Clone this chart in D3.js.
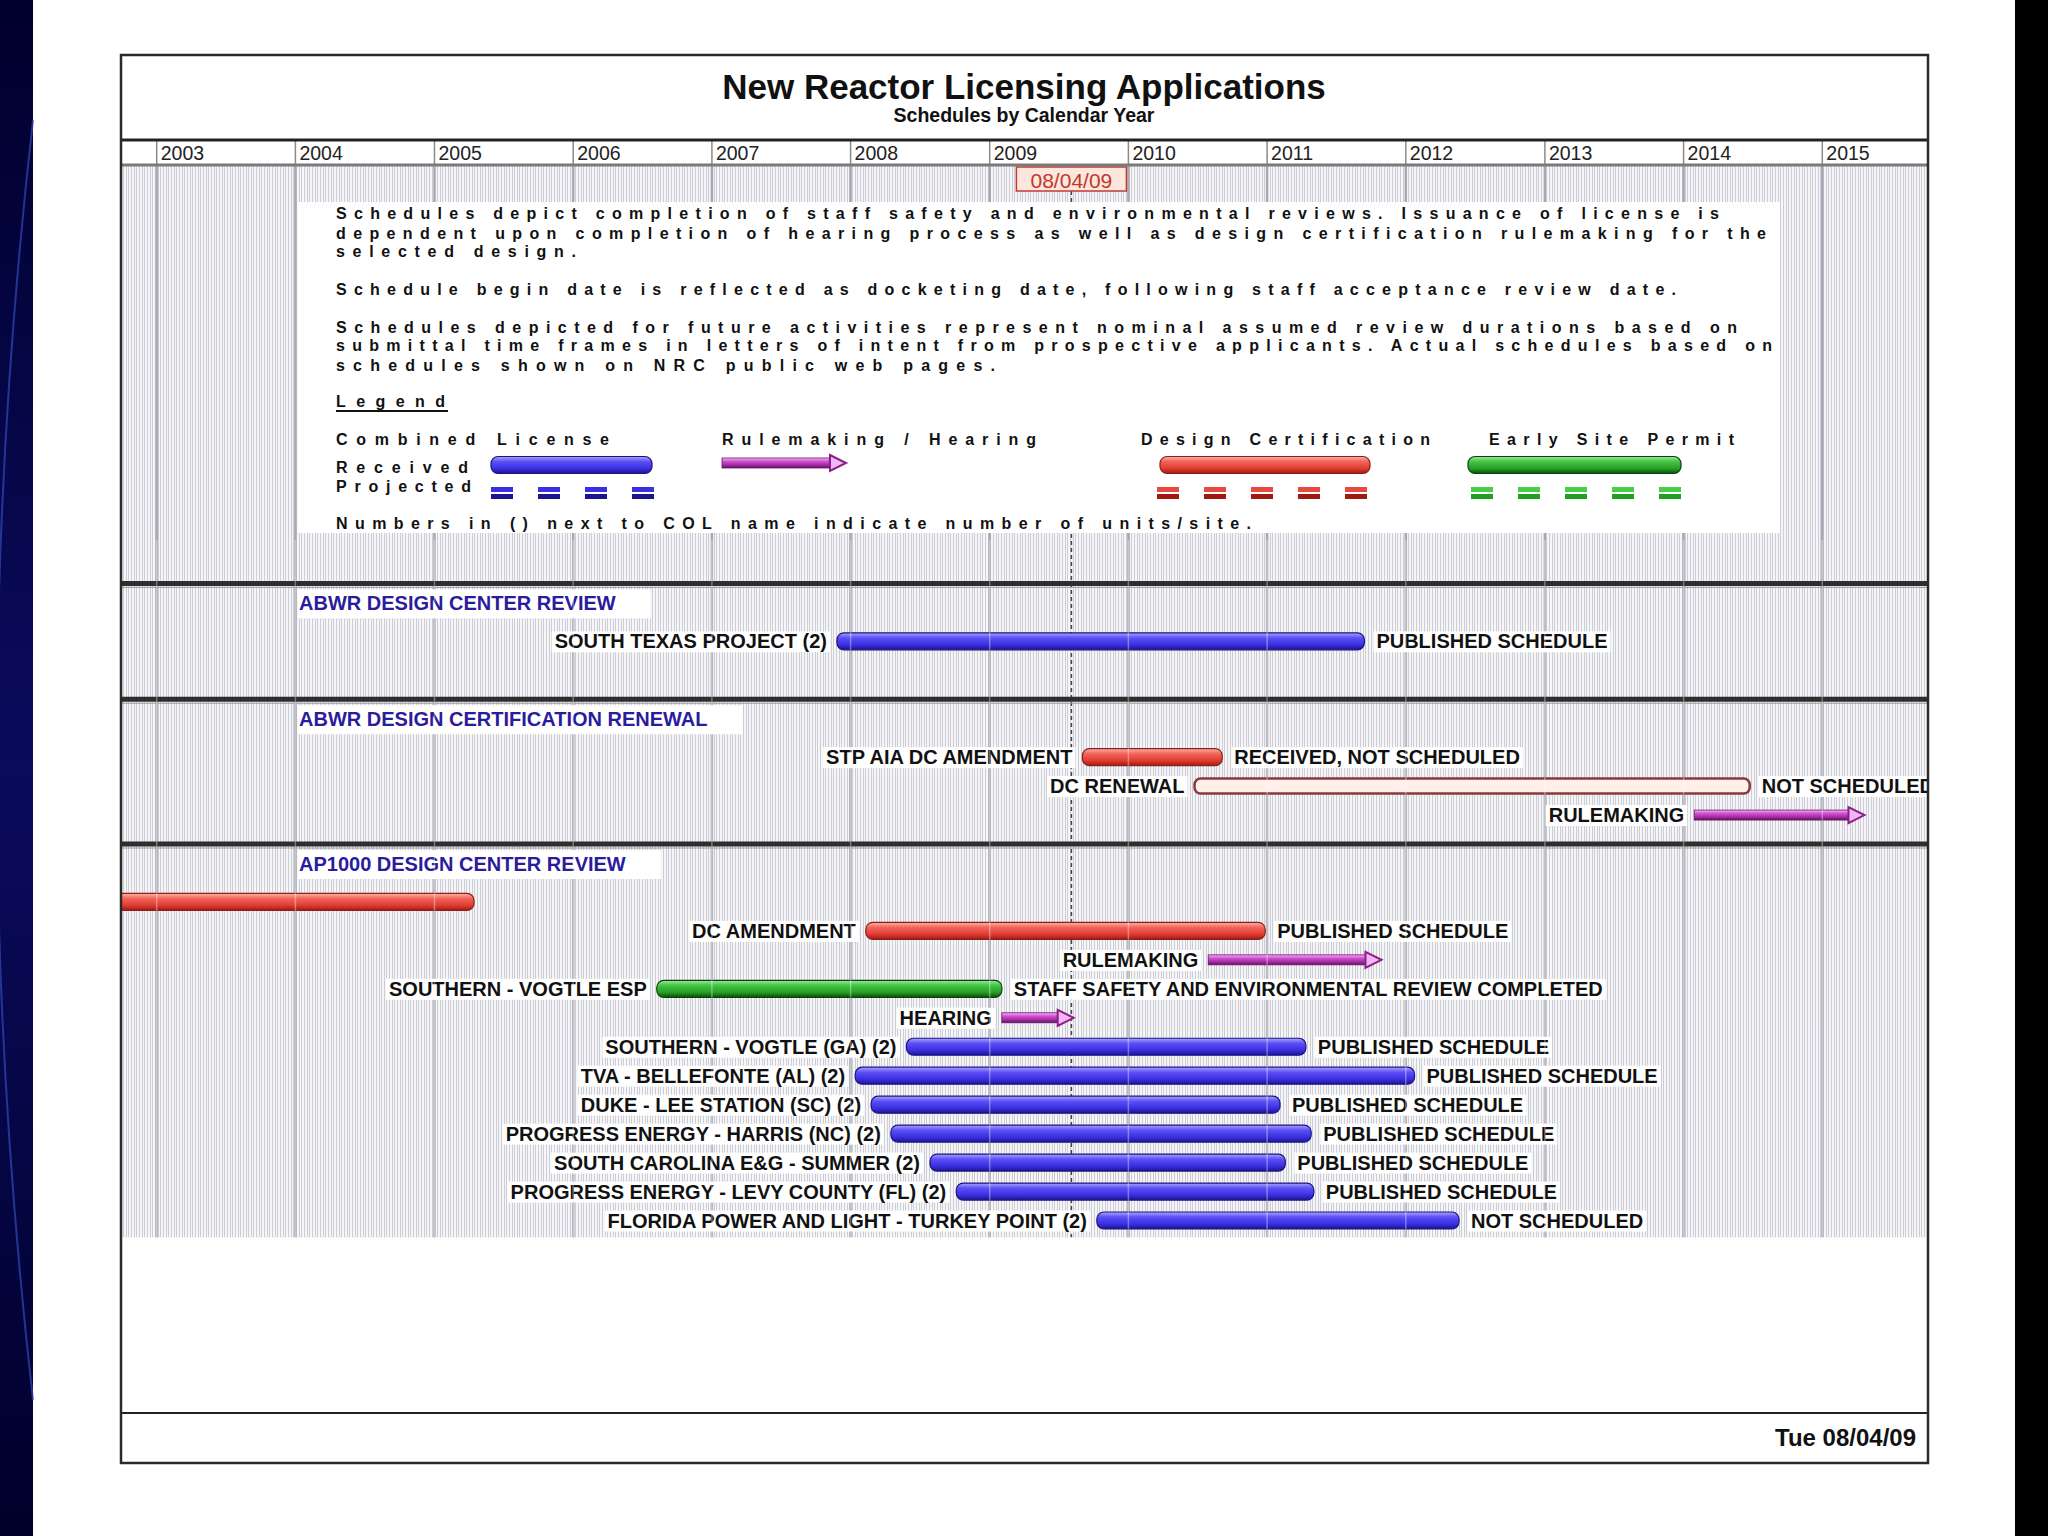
<!DOCTYPE html>
<html>
<head>
<meta charset="utf-8">
<script src="https://cdn.jsdelivr.net/npm/d3@7"></script>
<style>
  body { margin: 0; background: #fff; }
  text { font-family: "Liberation Sans", Arial, Helvetica, sans-serif; }
</style>
</head>
<body>
<svg id="chart"></svg>
<script>
// ---- data ----
var yearLabels = ["2003", "2004", "2005", "2006", "2007", "2008", "2009",
  "2010", "2011", "2012", "2013", "2014", "2015"];
var reportDate = "2009-08-04";
var reportLabel = "08/04/09";
var footerLabel = "Tue 08/04/09";

var titleText = "New Reactor Licensing Applications";
var subtitleText = "Schedules by Calendar Year";

var noteLines = [
  "Schedules depict completion of staff safety and environmental reviews. Issuance of license is",
  "dependent upon completion of hearing process as well as design certification rulemaking for the",
  "selected design.",
  "Schedule begin date is reflected as docketing date, following staff acceptance review date.",
  "Schedules depicted for future activities represent nominal assumed review durations based on",
  "submittal time frames in letters of intent from prospective applicants.  Actual schedules based on",
  "schedules shown on NRC public web pages."
];
var legendTitles = ["Combined License", "Rulemaking / Hearing", "Design Certification", "Early Site Permit"];
var legendFootnote = "Numbers in () next to COL name indicate number of units/site.";

var sectionNames = [
  "ABWR DESIGN CENTER REVIEW",
  "ABWR DESIGN CERTIFICATION RENEWAL",
  "AP1000 DESIGN CENTER REVIEW"
];

var rowSection = [0, 1, 1, 1, 2, 2, 2, 2, 2, 2, 2, 2, 2, 2, 2, 2];
var rowLabels = [
  "SOUTH TEXAS PROJECT (2)",
  "STP AIA DC AMENDMENT", "DC RENEWAL", "RULEMAKING",
  "", "DC AMENDMENT", "RULEMAKING", "SOUTHERN - VOGTLE ESP", "HEARING",
  "SOUTHERN - VOGTLE (GA) (2)", "TVA - BELLEFONTE (AL) (2)",
  "DUKE - LEE STATION (SC) (2)", "PROGRESS ENERGY - HARRIS (NC) (2)",
  "SOUTH CAROLINA E&G - SUMMER (2)", "PROGRESS ENERGY - LEVY COUNTY (FL) (2)",
  "FLORIDA POWER AND LIGHT - TURKEY POINT (2)"
];
var rowKinds = ["col", "dc", "dcOpen", "rule", "dc", "dc", "rule", "esp", "rule",
  "col", "col", "col", "col", "col", "col", "col"];
var rowStarts = ["2007-11-26", "2009-09-02", "2010-06-24", "2014-01-29",
  "2002-03-28", "2008-02-10", "2010-07-30", "2006-08-09", "2009-02-02",
  "2008-05-27", "2008-01-13", "2008-02-24", "2008-04-16", "2008-07-28",
  "2008-10-05", "2009-10-10"];
var rowEnds = ["2011-09-14", "2010-09-05", "2014-06-24", "2015-04-22",
  "2005-04-15", "2010-12-27", "2011-10-29", "2009-02-02", "2009-08-10",
  "2011-04-13", "2012-01-24", "2011-02-04", "2011-04-27", "2011-02-18",
  "2011-05-04", "2012-05-20"];
var rowStatus = ["PUBLISHED SCHEDULE", "RECEIVED, NOT SCHEDULED", "NOT SCHEDULED", "",
  "", "PUBLISHED SCHEDULE", "", "STAFF SAFETY AND ENVIRONMENTAL REVIEW COMPLETED", "",
  "PUBLISHED SCHEDULE", "PUBLISHED SCHEDULE", "PUBLISHED SCHEDULE", "PUBLISHED SCHEDULE",
  "PUBLISHED SCHEDULE", "PUBLISHED SCHEDULE", "NOT SCHEDULED"];

// ---- setup ----
var W = 2048, H = 1536;
var frame = { left: 121, right: 1928, top: 55, bottom: 1463 };
var headerTop = 141, headerBottom = 165;
var barH = 17;
var parse = d3.timeParse("%Y-%m-%d");

var rows = rowLabels.map(function (d, i) {
  return {
    label: d, section: rowSection[i], kind: rowKinds[i],
    start: parse(rowStarts[i]), end: parse(rowEnds[i]), status: rowStatus[i]
  };
});

// slot layout: rows stack one per slot, sections separated by a header gap
var slot = 0, sepSlots = [];
sectionNames.forEach(function (s, si) {
  sepSlots.push(slot - 2);
  var first = slot;
  rows.forEach(function (r) {
    if (r.section === si) { r.slot = slot; slot += 1; }
  });
  slot = Math.max(slot, first + 2) + 2;
});
var lastSlot = d3.max(rows, d => d.slot);

var x = d3.scaleTime()
  .domain([new Date(2003, 0, 1), new Date(2015, 0, 1)])
  .range([156.7, 1822.3]);
var y = d3.scaleLinear().domain([0, 20]).range([641.3, 1220.5]);
var gridBottom = y(lastSlot) + 17;

var svg = d3.select("#chart").attr("width", W).attr("height", H);
var defs = svg.append("defs");

function vGrad(id, stops) {
  var g = defs.append("linearGradient").attr("id", id)
    .attr("x1", 0).attr("y1", 0).attr("x2", 0).attr("y2", 1);
  stops.forEach(function (s) {
    g.append("stop").attr("offset", s[0]).attr("stop-color", s[1]);
  });
}
vGrad("g-col", [[0, "#a8a4ff"], [0.3, "#5b50f4"], [0.7, "#3b2fe2"], [1, "#1d1590"]]);
vGrad("g-dc", [[0, "#ffb0a6"], [0.3, "#f0655a"], [0.7, "#e03c32"], [1, "#a01a12"]]);
vGrad("g-esp", [[0, "#9de89d"], [0.3, "#44c444"], [0.7, "#27a027"], [1, "#0a520a"]]);
vGrad("g-rule", [[0, "#f5b2f5"], [0.35, "#cf4fcf"], [0.7, "#a22ca2"], [1, "#5f125f"]]);
vGrad("g-side", [[0, "#00002c"], [0.5, "#0b0b5e"], [1, "#00002a"]]);

var fills = { col: "url(#g-col)", dc: "url(#g-dc)", esp: "url(#g-esp)" };
var strokes = { col: "#1b1380", dc: "#8c2018", esp: "#0b420b" };

defs.append("clipPath").attr("id", "gridClip").append("rect")
  .attr("x", frame.left).attr("y", headerBottom)
  .attr("width", frame.right - frame.left).attr("height", gridBottom - headerBottom);

// slide edges
svg.append("rect").attr("width", W).attr("height", H).attr("fill", "#fff");
svg.append("rect").attr("x", 0).attr("y", 0).attr("width", 33).attr("height", H).attr("fill", "url(#g-side)");
svg.append("path").attr("d", "M33,120 Q-40,760 33,1400")
  .attr("fill", "none").attr("stroke", "#3347b8").attr("stroke-width", 2).attr("opacity", 0.7);
svg.append("rect").attr("x", 2015).attr("y", 0).attr("width", W - 2015).attr("height", H).attr("fill", "#000");

// title
svg.append("text").attr("x", 1024).attr("y", 99).attr("text-anchor", "middle")
  .attr("font-size", 35).attr("font-weight", "bold").attr("fill", "#111").text(titleText);
svg.append("text").attr("x", 1024).attr("y", 122).attr("text-anchor", "middle")
  .attr("font-size", 19.5).attr("font-weight", "bold").attr("fill", "#111").text(subtitleText);

// year header
var yearDates = yearLabels.map(d => new Date(+d, 0, 1));
svg.append("rect").attr("x", frame.left).attr("y", headerTop)
  .attr("width", frame.right - frame.left).attr("height", headerBottom - headerTop).attr("fill", "#fff");
var header = svg.append("g").attr("class", "x axis");
header.selectAll("line").data(yearDates).enter().append("line")
  .attr("x1", d => x(d)).attr("x2", d => x(d))
  .attr("y1", headerTop).attr("y2", headerBottom)
  .attr("stroke", "#8a8a8a").attr("stroke-width", 1.5);
header.selectAll("text").data(yearLabels).enter().append("text")
  .attr("x", (d, i) => x(yearDates[i]) + 4).attr("y", 160)
  .attr("font-size", 19.5).attr("fill", "#222").text(d => d);

// grid body
var grid = svg.append("g").attr("clip-path", "url(#gridClip)");
grid.append("rect").attr("x", frame.left).attr("y", headerBottom)
  .attr("width", frame.right - frame.left).attr("height", gridBottom - headerBottom)
  .attr("fill", "#f6f6f8");
var weeks = d3.timeWeek.range(x.invert(frame.left), x.invert(frame.right));
grid.append("g").selectAll("line").data(weeks).enter().append("line")
  .attr("x1", d => x(d)).attr("x2", d => x(d))
  .attr("y1", headerBottom).attr("y2", gridBottom)
  .attr("stroke", "#cdcdd5").attr("stroke-width", 1)
  .attr("shape-rendering", "crispEdges");
grid.append("g").selectAll("line").data(yearDates).enter().append("line")
  .attr("x1", d => x(d)).attr("x2", d => x(d))
  .attr("y1", headerBottom).attr("y2", gridBottom)
  .attr("stroke", "#a8a8b2").attr("stroke-width", 2.5);

// report date line
var rd = parse(reportDate);
grid.append("line").attr("x1", x(rd)).attr("x2", x(rd))
  .attr("y1", 191).attr("y2", gridBottom)
  .attr("stroke", "#444").attr("stroke-width", 1.5).attr("stroke-dasharray", "4,3");

// notes box
grid.append("rect").attr("x", 298).attr("y", 202).attr("width", 1482).attr("height", 331).attr("fill", "#fff");
var noteY = [219, 239, 257, 295, 333, 351, 371];
var noteLen = [1383, 1430, 240, 1340, 1401, 1436, 659];
var notes = svg.append("g").attr("font-size", 16).attr("font-weight", "bold").attr("fill", "#111");
function spaced(g, txt, tx, ty, len) {
  return g.append("text").attr("x", tx).attr("y", ty)
    .attr("textLength", len).attr("lengthAdjust", "spacing").text(txt);
}
noteLines.forEach(function (t, i) { spaced(notes, t, 336, noteY[i], noteLen[i]); });
spaced(notes, "Legend", 336, 407, 109);
notes.append("line").attr("x1", 336).attr("x2", 448).attr("y1", 411).attr("y2", 411)
  .attr("stroke", "#111").attr("stroke-width", 2);
var legX = [336, 722, 1141, 1489], legLen = [273, 314, 289, 245];
legendTitles.forEach(function (t, i) { spaced(notes, t, legX[i], 445, legLen[i]); });
spaced(notes, "Received", 336, 473, 132);
spaced(notes, "Projected", 336, 492, 135);
spaced(notes, legendFootnote, 336, 529, 915);

// legend swatches
var leg = svg.append("g");
function solidBar(g, x0, x1, cy, kind) {
  g.append("rect").attr("x", x0).attr("y", cy - barH / 2)
    .attr("width", Math.max(0, x1 - x0)).attr("height", barH)
    .attr("rx", 7).attr("ry", 7)
    .attr("fill", fills[kind]).attr("stroke", strokes[kind]).attr("stroke-width", 1.2);
}
function arrow(g, x0, x1, cy) {
  var head = 16;
  g.append("rect").attr("x", x0).attr("y", cy - 5)
    .attr("width", Math.max(0, x1 - x0 - head + 2)).attr("height", 10)
    .attr("fill", "url(#g-rule)").attr("stroke", "#6a166a").attr("stroke-width", 0.8);
  g.append("path")
    .attr("d", "M" + (x1 - head) + "," + (cy - 8) + "L" + x1 + "," + cy + "L" + (x1 - head) + "," + (cy + 8) + "Z")
    .attr("fill", "#f2b6f2").attr("stroke", "#8a1f8a").attr("stroke-width", 2);
}
solidBar(leg, 491, 652, 465, "col");
arrow(leg, 722, 846, 463);
solidBar(leg, 1160, 1370, 465, "dc");
solidBar(leg, 1468, 1681, 465, "esp");
var dashColors = { col: ["#3b2fe2", "#1d1590"], dc: ["#e84a40", "#a01a12"], esp: ["#46d046", "#20a020"] };
[["col", 491, 4], ["dc", 1157, 5], ["esp", 1471, 5]].forEach(function (p) {
  var c = dashColors[p[0]];
  d3.range(p[2]).forEach(function (k) {
    var dx = p[1] + k * 47;
    leg.append("rect").attr("x", dx).attr("y", 487).attr("width", 22).attr("height", 5).attr("fill", c[0]);
    leg.append("rect").attr("x", dx).attr("y", 494).attr("width", 22).attr("height", 5).attr("fill", c[1]);
  });
});

// section separators and headers
var content = svg.append("g").attr("clip-path", "url(#gridClip)");
sepSlots.forEach(function (s, si) {
  var sy = y(s);
  content.append("line").attr("x1", frame.left).attr("x2", frame.right)
    .attr("y1", sy).attr("y2", sy).attr("stroke", "#2e2e2e").attr("stroke-width", 5);
  content.append("line").attr("x1", frame.left).attr("x2", frame.right)
    .attr("y1", sy + 4).attr("y2", sy + 4).attr("stroke", "#9a9a9a").attr("stroke-width", 1);
  var hg = content.append("g");
  var bg = hg.append("rect").attr("fill", "#fff");
  var t = hg.append("text").attr("x", 299).attr("y", sy + 27)
    .attr("font-size", 20).attr("font-weight", "bold").attr("fill", "#2a1c9c")
    .text(sectionNames[si]);
  var bb = t.node().getBBox();
  bg.attr("x", 298).attr("y", sy + 6).attr("width", bb.width + 36).attr("height", 29);
});

// row labels with white backing
function label(g, txt, tx, ty, anchor) {
  if (!txt) return;
  var lg = g.append("g");
  var bg = lg.append("rect").attr("fill", "#fff");
  var t = lg.append("text").attr("x", tx).attr("y", ty).attr("text-anchor", anchor)
    .attr("font-size", 20).attr("font-weight", "bold").attr("fill", "#111").text(txt);
  var bb = t.node().getBBox();
  bg.attr("x", bb.x - 3).attr("y", bb.y + 1).attr("width", bb.width + 6).attr("height", bb.height - 1);
}

var rowG = content.append("g").attr("class", "rows");
rows.forEach(function (r) {
  var cy = y(r.slot);
  var x0 = x(r.start), x1 = x(r.end);
  label(rowG, r.label, x0 - 10, cy + 7, "end");
  label(rowG, r.status, x1 + 12, cy + 7, "start");
  if (r.kind === "rule") {
    arrow(rowG, x0, x1, cy);
  } else if (r.kind === "dcOpen") {
    rowG.append("rect").attr("x", x0).attr("y", cy - barH / 2 + 1)
      .attr("width", x1 - x0).attr("height", barH - 2).attr("rx", 6).attr("ry", 6)
      .attr("fill", "#fff0ea").attr("stroke", "#8a3a3a").attr("stroke-width", 2.5);
  } else {
    solidBar(rowG, x0, x1, cy, r.kind);
  }
});

// faint year lines over the bars
content.append("g").selectAll("line").data(yearDates).enter().append("line")
  .attr("x1", d => x(d)).attr("x2", d => x(d))
  .attr("y1", 540).attr("y2", gridBottom)
  .attr("stroke", "#ffffff").attr("stroke-width", 1.5).attr("opacity", 0.35);

// report date box
svg.append("rect").attr("x", x(rd) - 55).attr("y", 167).attr("width", 110).attr("height", 24)
  .attr("fill", "#fde6de").attr("stroke", "#c23b30").attr("stroke-width", 1.5);
svg.append("text").attr("x", x(rd)).attr("y", 188).attr("text-anchor", "middle")
  .attr("font-size", 21).attr("fill", "#c0392b").text(reportLabel);

// rules around header
svg.append("line").attr("x1", frame.left).attr("x2", frame.right).attr("y1", headerTop - 1).attr("y2", headerTop - 1)
  .attr("stroke", "#222").attr("stroke-width", 3);
svg.append("line").attr("x1", frame.left).attr("x2", frame.right).attr("y1", headerBottom).attr("y2", headerBottom)
  .attr("stroke", "#7a7a7a").attr("stroke-width", 3);

// footer
svg.append("line").attr("x1", frame.left).attr("x2", frame.right).attr("y1", 1413).attr("y2", 1413)
  .attr("stroke", "#222").attr("stroke-width", 2);
svg.append("text").attr("x", 1916).attr("y", 1446).attr("text-anchor", "end")
  .attr("font-size", 24).attr("font-weight", "bold").attr("fill", "#111").text(footerLabel);

// outer frame
svg.append("rect").attr("x", frame.left).attr("y", frame.top)
  .attr("width", frame.right - frame.left).attr("height", frame.bottom - frame.top)
  .attr("fill", "none").attr("stroke", "#2a2a2a").attr("stroke-width", 2.5);
</script>
</body>
</html>
